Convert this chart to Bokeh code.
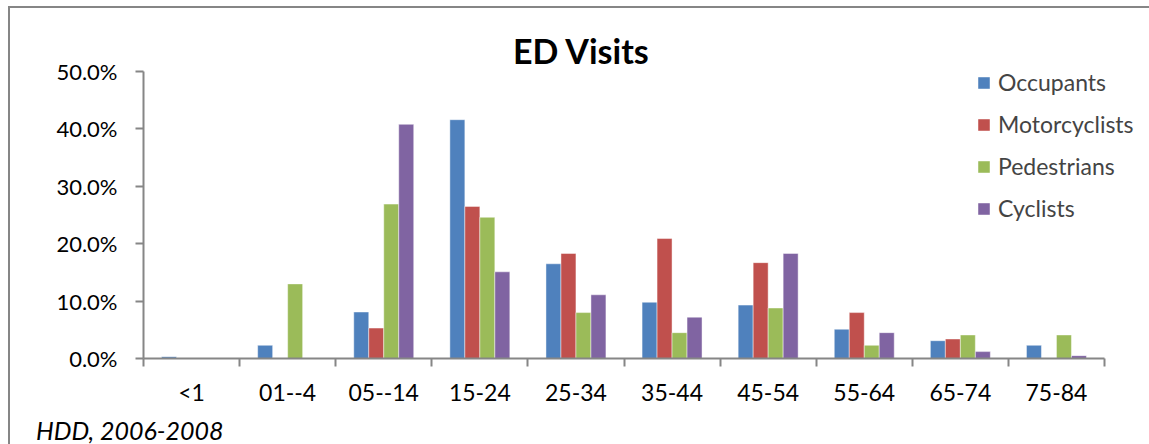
from bokeh.plotting import figure
from bokeh.layouts import column
from bokeh.models import (ColumnDataSource, FixedTicker, NumeralTickFormatter, Legend,
                          LegendItem, Label, Range1d, Div)
from bokeh.embed import file_html
from bokeh.resources import INLINE

categories = ["<1", "01--4", "05--14", "15-24", "25-34", "35-44", "45-54", "55-64", "65-74", "75-84"]
series = ["Occupants", "Motorcyclists", "Pedestrians", "Cyclists"]
occupants = [0.003, 0.023, 0.081, 0.416, 0.165, 0.098, 0.093, 0.051, 0.031, 0.023]
motorcyclists = [0.001, 0.001, 0.053, 0.265, 0.183, 0.209, 0.167, 0.080, 0.034, 0.000]
pedestrians = [0.000, 0.130, 0.269, 0.246, 0.080, 0.045, 0.088, 0.023, 0.041, 0.041]
cyclists = [0.000, 0.000, 0.408, 0.151, 0.111, 0.072, 0.183, 0.045, 0.012, 0.005]
colors = ["#4F81BD", "#C0504D", "#9BBB59", "#8064A2"]
y_ticks = [0.0, 0.1, 0.2, 0.3, 0.4, 0.5]
title_text = "ED Visits"
source_text = "HDD, 2006-2008"

FONT = "Lato"
AXIS_COLOR = "#868686"
BORDER = "2px solid #868686"

values = [occupants, motorcyclists, pedestrians, cyclists]
n = len(categories)
centers = [i + 0.5 for i in range(n)]

# frame: x 143..1149 (axis ends at 1104), y 30..358 (50% at 71)
FW, FH = 1006, 328
CAT_PX = 96.1
YPX = 574.0  # px per 100%
p = figure(frame_width=FW, frame_height=FH, output_backend="svg", toolbar_location=None,
           x_range=Range1d(0, FW / CAT_PX), y_range=Range1d(0, FH / YPX),
           min_border_left=133, min_border_right=0, min_border_top=22, min_border_bottom=54)

bar_w = 0.156
offsets = [-1.5 * bar_w, -0.5 * bar_w, 0.5 * bar_w, 1.5 * bar_w]
items = []
for name, vals, col, off in zip(series, values, colors, offsets):
    src = ColumnDataSource(dict(x=[c + off for c in centers], top=vals))
    r = p.vbar(x="x", top="top", bottom=0, width=bar_w, source=src,
               fill_color=col, line_color="white", line_alpha=0.45, line_width=1)
    items.append(LegendItem(label=name, renderers=[r]))

p.grid.visible = False
p.outline_line_color = None

# x axis
xa = p.xaxis[0]
xa.bounds = (0, n)
xa.ticker = FixedTicker(ticks=centers, minor_ticks=list(range(n + 1)))
xa.major_label_overrides = {c: lab for c, lab in zip(centers, categories)}
xa.major_tick_line_color = None
xa.major_tick_in = 0
xa.major_tick_out = 0
xa.minor_tick_in = 0
xa.minor_tick_out = 8
xa.minor_tick_line_color = AXIS_COLOR
xa.minor_tick_line_width = 2
xa.axis_line_color = AXIS_COLOR
xa.axis_line_width = 2
xa.major_label_text_font = FONT
xa.major_label_text_font_size = "23px"
xa.major_label_text_color = "black"
xa.major_label_standoff = 11

# y axis
ya = p.yaxis[0]
ya.bounds = (0, 0.5)
ya.ticker = FixedTicker(ticks=y_ticks)
ya.formatter = NumeralTickFormatter(format="0.0%")
ya.minor_tick_line_color = None
ya.major_tick_in = 0
ya.major_tick_out = 8
ya.major_tick_line_color = AXIS_COLOR
ya.major_tick_line_width = 2
ya.axis_line_color = AXIS_COLOR
ya.axis_line_width = 2
ya.major_label_text_font = FONT
ya.major_label_text_font_size = "22px"
ya.major_label_text_color = "black"
ya.major_label_standoff = 18

legend = Legend(items=items, location=(833, 136), orientation="vertical",
                glyph_width=15, glyph_height=15, label_height=20, spacing=14,
                label_standoff=7, padding=0, margin=0,
                border_line_color=None, background_fill_alpha=0,
                label_text_font=FONT, label_text_font_size="23px")
p.add_layout(legend, "center")

title = Label(x=(581 - 143) / CAT_PX, y=(358 - 50) / YPX, text=title_text,
              text_align="center", text_baseline="middle",
              text_font=FONT, text_font_size="34px", text_font_style="bold",
              text_color="black")
p.add_layout(title)

foot = Div(text=source_text, width=400, height=30,
           styles={"padding-left": "21px", "overflow": "visible",
                   "font-family": "Lato", "font-style": "italic", "font-size": "25px",
                   "line-height": "26px", "color": "black", "white-space": "nowrap"})

layout = column(p, foot, spacing=0,
                styles={"margin-left": "8px", "margin-top": "6px",
                        "border-top": BORDER, "border-left": BORDER})

open("out.html", "w").write(file_html(layout, INLINE))
